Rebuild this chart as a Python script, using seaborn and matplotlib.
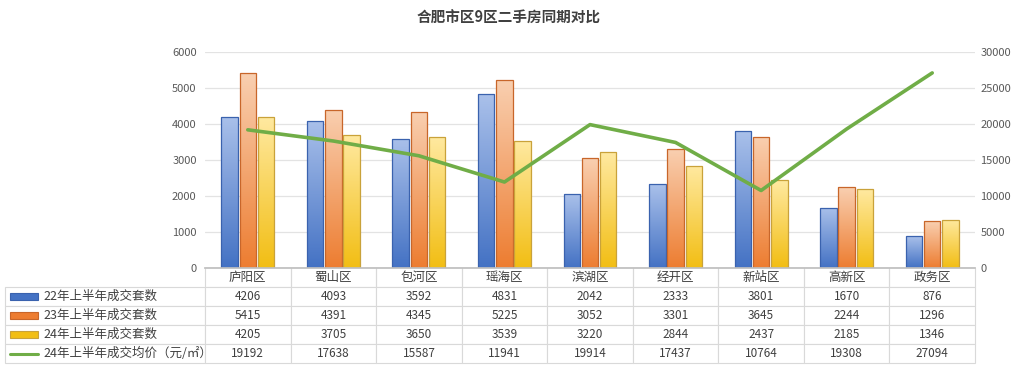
import numpy as np
import pandas as pd
import matplotlib
matplotlib.use("Agg")
import matplotlib.pyplot as plt
import seaborn as sns
from matplotlib.patches import Rectangle
from matplotlib.lines import Line2D
from matplotlib.colors import LinearSegmentedColormap

# ---------------- data ----------------
categories = ["庐阳区", "蜀山区", "包河区", "瑶海区", "滨湖区", "经开区", "新站区", "高新区", "政务区"]
series_names = ["22年上半年成交套数", "23年上半年成交套数", "24年上半年成交套数"]
sales_22 = [4206, 4093, 3592, 4831, 2042, 2333, 3801, 1670, 876]
sales_23 = [5415, 4391, 4345, 5225, 3052, 3301, 3645, 2244, 1296]
sales_24 = [4205, 3705, 3650, 3539, 3220, 2844, 2437, 2185, 1346]
price_name = "24年上半年成交均价（元/㎡）"
price_24 = [19192, 17638, 15587, 11941, 19914, 17437, 10764, 19308, 27094]
title = "合肥市区9区二手房同期对比"
left_ticks = [0, 1000, 2000, 3000, 4000, 5000, 6000]
right_ticks = [0, 5000, 10000, 15000, 20000, 25000, 30000]

# ---------------- style ----------------
sns.set_theme(style="white")
plt.rcParams["font.family"] = ["Noto Sans CJK SC", "DejaVu Sans"]
plt.rcParams["axes.unicode_minus"] = False

bar_colors = [("#4472C4", "#A9C0EA", "#3A62AE"),
              ("#ED7D31", "#F9CFB0", "#C8662A"),
              ("#F2BE14", "#FFE9A0", "#C9A23A")]
line_color = "#70AD47"
text_color = "#404040"
grid_color = "#E3E3E3"

fig = plt.figure(figsize=(10.17, 3.65), dpi=100)
ax = fig.add_axes([205 / 1017, 1 - 268 / 365, 770 / 1017, 216 / 365])

df = pd.DataFrame({
    "区域": categories * 3,
    "系列": sum([[s] * len(categories) for s in series_names], []),
    "套数": sales_22 + sales_23 + sales_24,
})
sns.barplot(data=df, x="区域", y="套数", hue="系列", hue_order=series_names,
            palette=[c[0] for c in bar_colors], width=0.64, gap=0.1,
            legend=False, ax=ax, zorder=2)

# gradient fill for each bar
for cont, (base, light, edge) in zip(ax.containers, bar_colors):
    cmap = LinearSegmentedColormap.from_list("g", [base, light])
    for p in cont.patches:
        x, y0 = p.get_x(), p.get_y()
        w, h = p.get_width(), p.get_height()
        p.set_edgecolor(edge)
        p.set_linewidth(0.9)
        grad = np.linspace(0, 1, 100).reshape(-1, 1)
        im = ax.imshow(grad, extent=[x, x + w, y0, y0 + h], origin="lower",
                       cmap=cmap, aspect="auto", zorder=2.1)
        im.set_clip_path(p)
        p.set_facecolor("none")
        p.set_zorder(2.2)

ax.set_xlim(-0.5, len(categories) - 0.5)
ax.set_ylim(0, 6000)
ax.set_yticks(left_ticks)
ax.set_yticklabels([str(t) for t in left_ticks])
ax.tick_params(axis="y", labelsize=8, colors="#595959", length=0, pad=6)
ax.set_xticks([])
ax.set_xlabel("")
ax.set_ylabel("")
ax.yaxis.grid(True, color=grid_color, linewidth=0.9)
ax.set_axisbelow(True)
for s in ["left", "right", "top"]:
    ax.spines[s].set_visible(False)
ax.spines["bottom"].set_color("#BFBFBF")

# line on the secondary axis
ax2 = ax.twinx()
sns.lineplot(x=np.arange(len(categories)), y=price_24, ax=ax2, color=line_color,
             linewidth=2.6, zorder=5)
ax2.set_ylim(0, 30000)
ax2.set_yticks(right_ticks)
ax2.set_yticklabels([str(t) for t in right_ticks])
ax2.tick_params(axis="y", labelsize=8, colors="#595959", length=0, pad=4)
ax2.set_ylabel("")
for s in ax2.spines.values():
    s.set_visible(False)
ax2.set_xlim(-0.5, len(categories) - 0.5)

# ---------------- data table ----------------
cell_text = [[str(v) for v in row] for row in (sales_22, sales_23, sales_24, price_24)]
row_labels = series_names + [price_name]
col_w = 1.0 / len(categories)
table = ax.table(cellText=cell_text, rowLabels=row_labels, colLabels=categories,
                 colWidths=[col_w] * len(categories),
                 rowLoc="left", cellLoc="center", colLoc="center",
                 bbox=[0, -95 / 216, 1, 95 / 216])
if -1 in table._autoColumns:
    table._autoColumns.remove(-1)
table.auto_set_font_size(False)
table.set_fontsize(8.5)
for (r, c), cell in table.get_celld().items():
    cell.set_edgecolor("#D9D9D9")
    cell.set_linewidth(0.8)
    cell.set_facecolor("white")
    cell.get_text().set_color(text_color)
    if c == -1:
        cell.set_width(200 / 770)
        cell.PAD = 0.19
        cell.get_text().set_fontsize(9)
    if r == 0:
        cell.get_text().set_fontsize(9)
        cell.visible_edges = "LRB"

# legend keys inside the row label cells
key_x0 = (10 - 205) / 770
key_w = 28 / 770
for i in range(4):
    yc = -(19 + 19 * i + 9.5) / 216
    if i < 3:
        base, light, edge = bar_colors[i]
        ax.add_patch(Rectangle((key_x0, yc - 3.2 / 216), key_w, 6.4 / 216,
                               transform=ax.transAxes, facecolor=base,
                               edgecolor=edge, linewidth=0.8, clip_on=False, zorder=10))
    else:
        ax.add_line(Line2D([key_x0, key_x0 + key_w], [yc, yc], transform=ax.transAxes,
                           color=line_color, linewidth=2.2, clip_on=False, zorder=10))

fig.text(0.5, 1 - 18 / 365, title, ha="center", va="center", fontsize=10.5,
         color=text_color, fontweight="bold")

fig.savefig("out.png", dpi=100, facecolor="white")
